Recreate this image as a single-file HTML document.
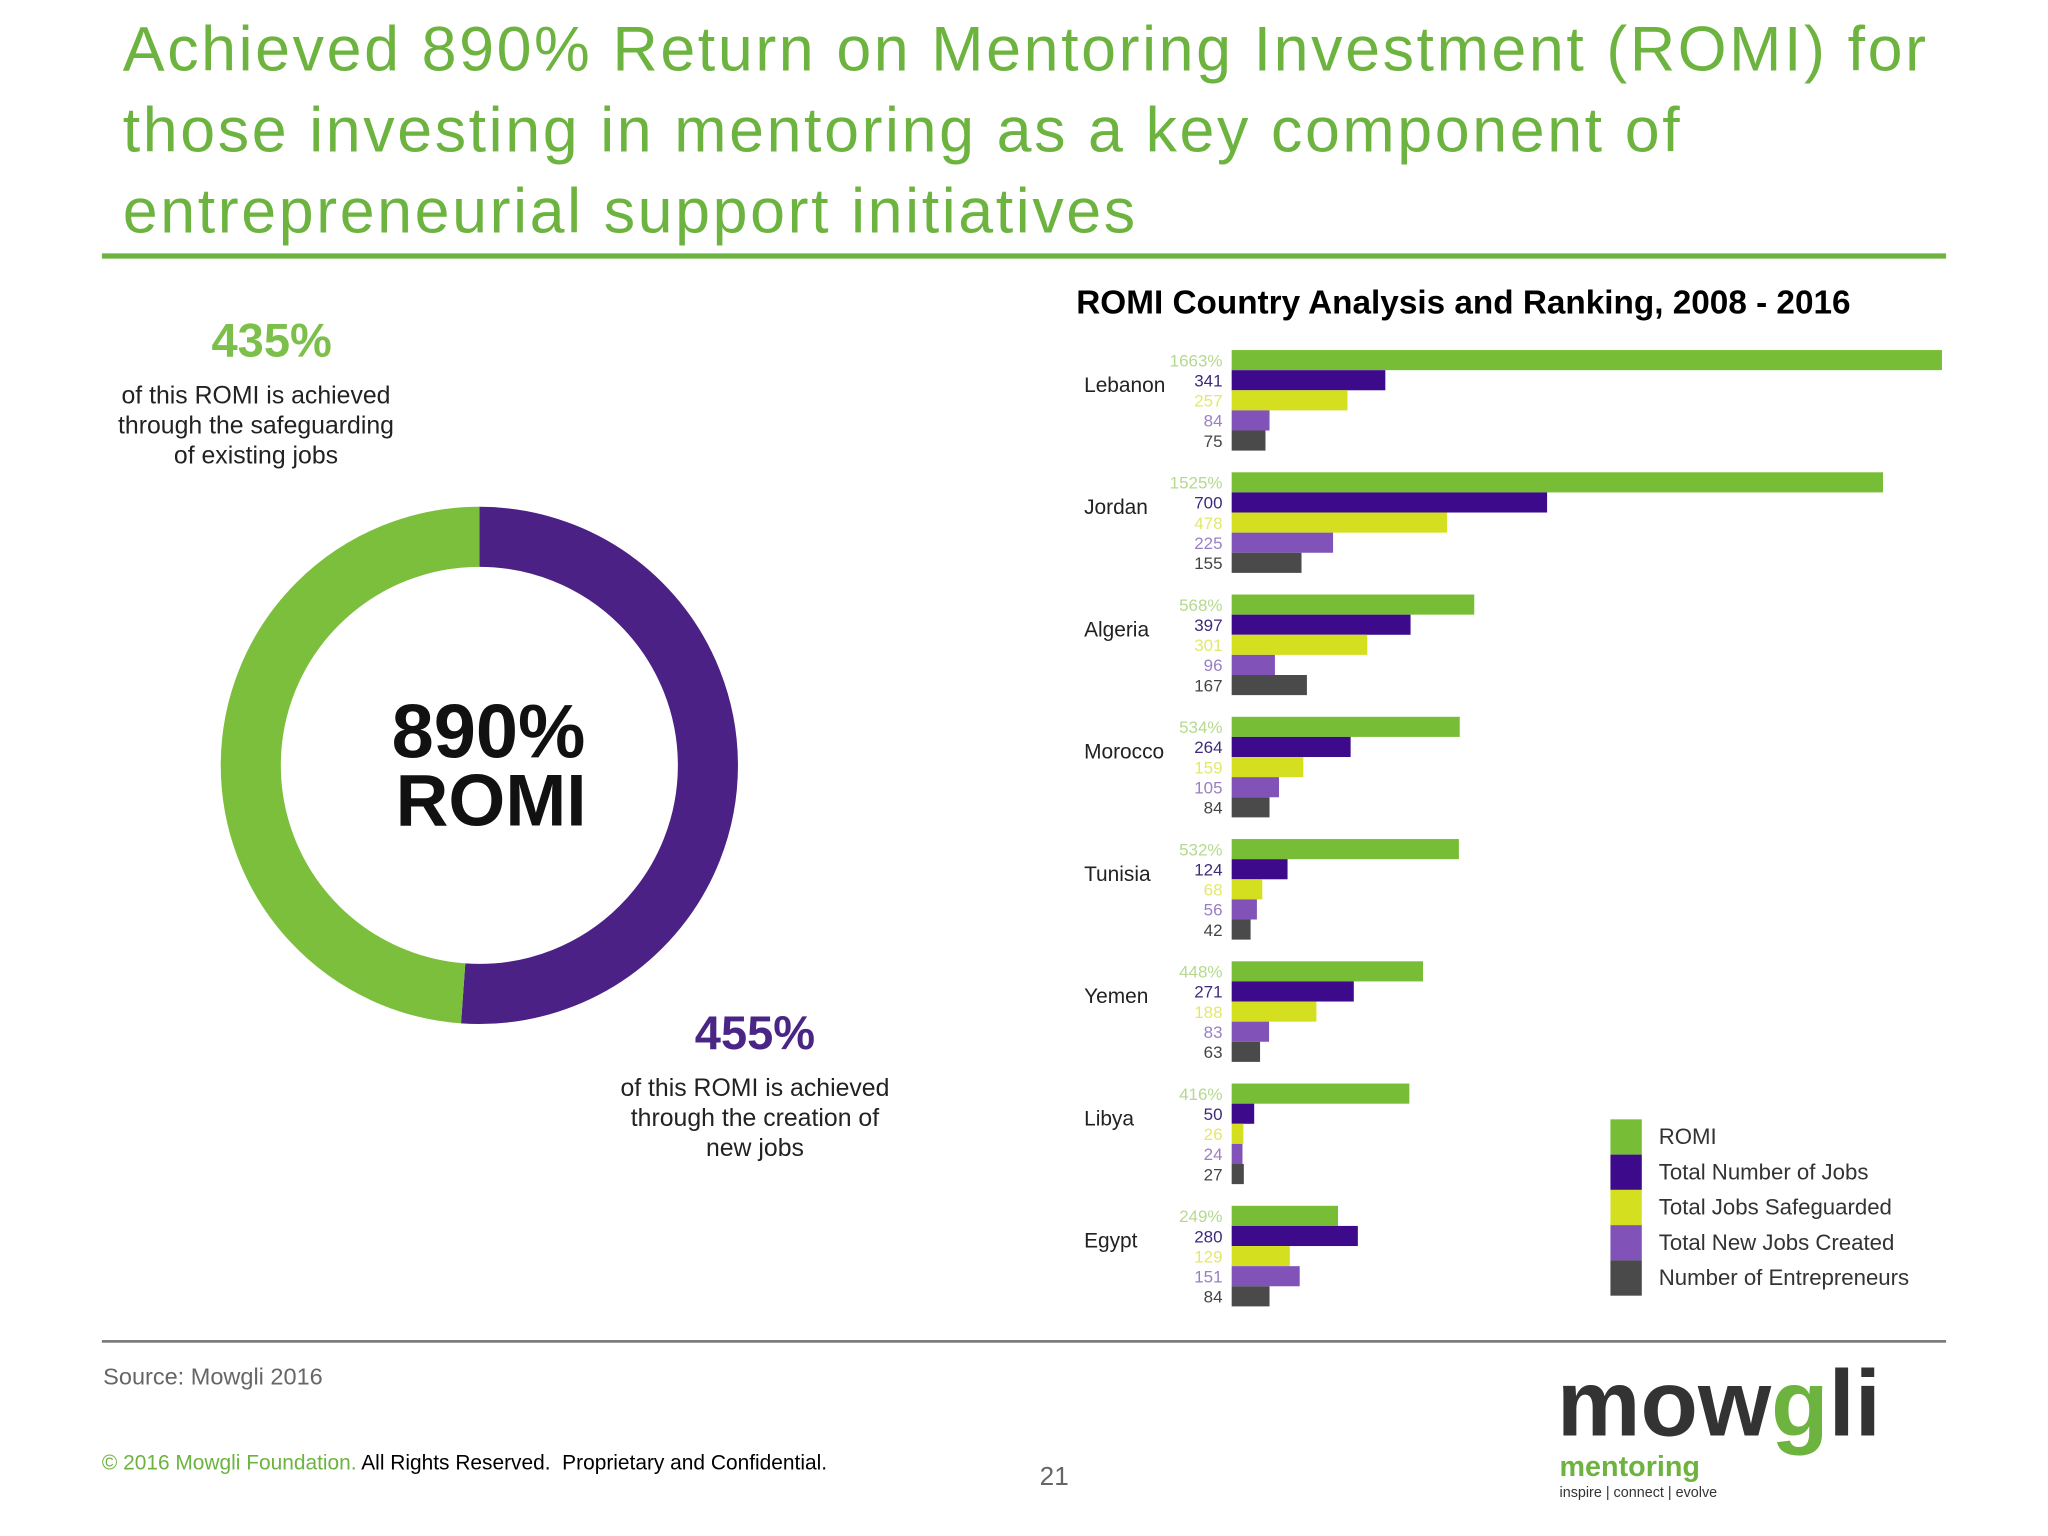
<!DOCTYPE html>
<html><head><meta charset="utf-8"><style>
html,body{margin:0;padding:0;background:#fff;overflow:hidden;width:2048px;height:1536px}
#stage{position:absolute;left:0;top:0;width:1568px;height:1176px;transform:scale(1.30612);transform-origin:0 0;font-family:"Liberation Sans",sans-serif}
.abs{position:absolute}
</style></head><body>
<div id="stage">
<div class="abs" style="left:94px;top:8px;width:1470px;color:#6db33f;font-size:48px;line-height:62px;letter-spacing:2px">Achieved 890% Return on Mentoring Investment (ROMI) for those investing in mentoring as a key component of entrepreneurial support initiatives</div>
<div class="abs" style="left:78px;top:194px;width:1412px;height:4px;background:#6db33f"></div>

<div class="abs" style="left:90px;top:240px;width:236px;text-align:center;color:#7cbf4a;font-weight:bold;font-size:36px">435%</div>
<div class="abs" style="left:86px;top:292px;width:220px;text-align:center;color:#222;font-size:19px;line-height:23px">of this ROMI is achieved through the safeguarding of existing jobs</div>

<svg class="abs" style="left:0;top:0" width="1568" height="1176">
<g id="donut"></g>
<text x="374" y="580" text-anchor="middle" font-size="58" font-weight="bold" fill="#111" font-family="Liberation Sans">890%</text>
<text x="376" y="632" text-anchor="middle" font-size="56" font-weight="bold" fill="#111" font-family="Liberation Sans">ROMI</text>
</svg>

<div class="abs" style="left:460px;top:770px;width:236px;text-align:center;color:#4a2585;font-weight:bold;font-size:36px">455%</div>
<div class="abs" style="left:470px;top:822px;width:216px;text-align:center;color:#222;font-size:19px;line-height:23px">of this ROMI is achieved through the creation of new jobs</div>

<div class="abs" style="left:824px;top:218px;font-weight:bold;font-size:25.5px;color:#000">ROMI Country Analysis and Ranking, 2008 - 2016</div>
<svg class="abs" style="left:0;top:0" width="1568" height="1176"><g id="bars"></g><g id="legend"></g></svg>

<div class="abs" style="left:78px;top:1026px;width:1412px;height:2px;background:#777"></div>
<div class="abs" style="left:79px;top:1044px;color:#666;font-size:18px">Source: Mowgli 2016</div>
<div class="abs" style="left:78px;top:1112px;font-size:16px;color:#000"><span style="color:#6db33f">© 2016 Mowgli Foundation.</span> All Rights Reserved.&nbsp; Proprietary and Confidential.</div>
<div class="abs" style="left:796px;top:1120px;font-size:20px;color:#666">21</div>
<div class="abs" style="left:1192px;top:1040px;width:290px;height:120px">
 <div class="abs" style="left:0;top:-6px;font-size:72px;font-weight:bold;color:#333;letter-spacing:0px">mow<span style="color:#6db33f">g</span>li</div>
 <div class="abs" style="left:2px;top:70px;font-size:22px;font-weight:bold;color:#6db33f">mentoring</div>
 <div class="abs" style="left:2px;top:97px;font-size:11px;color:#333">inspire | connect | evolve</div>
</div>
</div>
<script>
const NS='http://www.w3.org/2000/svg';
function mk(tag,attrs,parent){const e=document.createElementNS(NS,tag);for(const k in attrs)e.setAttribute(k,attrs[k]);parent.appendChild(e);return e;}
const donutParts=['Jobs Safeguarded','New Jobs Created'];
const donutValues=[435,455];
const donutColors=['#7cbf3c','#4b2185'];
const dg=document.getElementById('donut');
const cx=367,cy=586,R=175,C=2*Math.PI*R;
const tot=donutValues[0]+donutValues[1];
let startFrac=0;
[1,0].forEach(i=>{
 const frac=donutValues[i]/tot;
 const c=mk('circle',{cx:cx,cy:cy,r:R,fill:'none',stroke:donutColors[i],'stroke-width':46,
  'stroke-dasharray':(frac*C)+' '+C,'stroke-dashoffset':-startFrac*C,transform:'rotate(-90 '+cx+' '+cy+')'},dg);
 
 
 startFrac+=frac;
});
const countries=['Lebanon','Jordan','Algeria','Morocco','Tunisia','Yemen','Libya','Egypt'];
const romi=[1663,1525,568,534,532,448,416,249];
const totalJobs=[341,700,397,264,124,271,50,280];
const safeguarded=[257,478,301,159,68,188,26,129];
const newJobs=[84,225,96,105,56,83,24,151];
const entrepreneurs=[75,155,167,84,42,63,27,84];
const seriesNames=['ROMI','Total Number of Jobs','Total Jobs Safeguarded','Total New Jobs Created','Number of Entrepreneurs'];
const seriesColors=['#77bd35','#3d0a8c','#d4e01f','#8152b8','#4a4a4a'];
const labelColors=['#b5d98e','#3d2a7a','#e4e86a','#9a7fc4','#444'];
const x0=943;
function xRomi(v){return v*0.327;}
function xCount(v){return v*0.345;}
function yGroup(i){return 268+i*93.6;}
const bh=15.4;
const bg=document.getElementById('bars');
const series=[romi,totalJobs,safeguarded,newJobs,entrepreneurs];
countries.forEach((c,i)=>{
 const t=mk('text',{x:830,y:yGroup(i)+32,'font-size':16,fill:'#222','font-family':'Liberation Sans'},bg);
 t.textContent=c;
 
 
 series.forEach((s,j)=>{
  const w=j===0?xRomi(s[i]):xCount(s[i]);
  const y=yGroup(i)+j*bh;
  const r=mk('rect',{x:x0,y:y,width:w,height:bh,fill:seriesColors[j]},bg);
  
  
  const l=mk('text',{x:x0-7,y:y+12.5,'text-anchor':'end','font-size':13,fill:labelColors[j],'font-family':'Liberation Sans'},bg);
  l.textContent=j===0?s[i]+'%':s[i];
  
  
 });
});
const lg=document.getElementById('legend');
seriesNames.forEach((n,j)=>{
 const y=857+j*27;
 const r=mk('rect',{x:1233,y:y,width:24,height:27,fill:seriesColors[j]},lg);
 
 
 const t=mk('text',{x:1270,y:y+19,'font-size':17,fill:'#333','font-family':'Liberation Sans'},lg);
 t.textContent=n;
 
 
});
</script>
</body></html>
